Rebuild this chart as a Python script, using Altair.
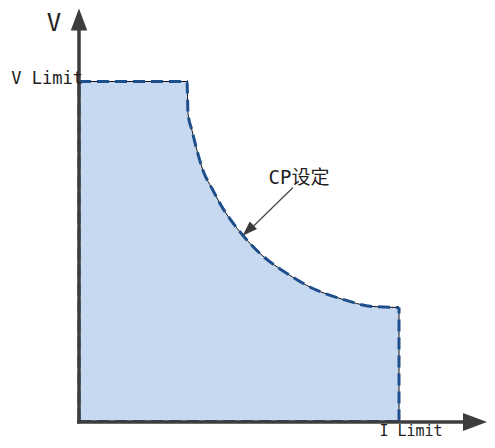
import altair as alt
import pandas as pd

# Constant-power boundary (I, V) (origin at axes crossing)
curve_i = [0, 108, 109, 113, 118, 124, 133, 141, 164, 181, 208, 234, 261, 294, 320]
curve_v = [340, 340, 308, 291, 271, 251, 233, 218, 186, 168, 148, 133, 123, 115, 114]
curve_base = [0] * len(curve_i)

# Remaining straight edges of the region (left, bottom, right)
edge_i = [0, 0, 320]
edge_v = [0, 0, 0]
edge_i2 = [0, 320, 320]
edge_v2 = [340, 0, 114]

# Axis lines
axis_i = [0, -2]
axis_v = [-2, -0.5]
axis_i2 = [0, 385]
axis_v2 = [392, -0.5]

# Annotation arrow for "CP设定"
ann_i = [214]
ann_v = [234]
ann_i2 = [171]
ann_v2 = [192]

labels = ["V", "V Limit", "I Limit", "CP设定"]
label_i = [-25, 4, 332, 220]
label_v = [391, 338, -14, 238]

W = 479
H = 431
XD = [-71, W - 71]
YD = [421.5 - (8 + H), 413.5]
FONT = "DejaVu Sans Mono, Noto Sans CJK SC"

curve = pd.DataFrame({"i": curve_i, "v": curve_v, "v0": curve_base})
edges = pd.DataFrame({"i": edge_i, "v": edge_v, "i2": edge_i2, "v2": edge_v2})
axes = pd.DataFrame({"i": axis_i, "v": axis_v, "i2": axis_i2, "v2": axis_v2})
ann = pd.DataFrame({"i": ann_i, "v": ann_v, "i2": ann_i2, "v2": ann_v2})
lab = pd.DataFrame({"t": labels, "i": label_i, "v": label_v})

def X(f="i"):
    return alt.X(f"{f}:Q", scale=alt.Scale(domain=XD, nice=False, zero=False), axis=None)

def Y(f="v"):
    return alt.Y(f"{f}:Q", scale=alt.Scale(domain=YD, nice=False, zero=False), axis=None)

area = alt.Chart(curve).mark_area(fill="#c6d9f1", fillOpacity=1, interpolate="monotone").encode(
    x=X(), y=Y(), y2="v0:Q")

thin = alt.Chart(curve).mark_line(color="#111111", strokeWidth=1, interpolate="monotone").encode(
    x=X(), y=Y(), order=alt.Order("i:Q"))

dashed = alt.Chart(curve).mark_line(color="#1f4e8c", strokeWidth=3,
                                     strokeDash=[12, 6], interpolate="monotone").encode(
    x=X(), y=Y(), order=alt.Order("i:Q"))

edge_thin = alt.Chart(edges).mark_rule(color="#111111", strokeWidth=1).encode(
    x=X(), y=Y(), x2="i2:Q", y2="v2:Q")
edge_dash = alt.Chart(edges).mark_rule(color="#1f4e8c", strokeWidth=3, strokeDash=[12, 6]).encode(
    x=X(), y=Y(), x2="i2:Q", y2="v2:Q")

axis_lines = alt.Chart(axes).mark_rule(color="#3d3d3d", strokeWidth=3.5).encode(
    x=X(), y=Y(), x2="i2:Q", y2="v2:Q")

head_up = alt.Chart(pd.DataFrame({"i": [0], "v": [402]})).mark_point(
    shape="M0,-1L0.75,1L-0.75,1Z", size=484, filled=True, fill="#3d3d3d",
    stroke=None, opacity=1).encode(x=X(), y=Y())
head_right = alt.Chart(pd.DataFrame({"i": [396], "v": [-0.5]})).mark_point(
    shape="M1,0L-1,-0.75L-1,0.75Z", size=576, filled=True, fill="#3d3d3d",
    stroke=None, opacity=1).encode(x=X(), y=Y())

ann_line = alt.Chart(ann).mark_rule(color="#444444", strokeWidth=1.2).encode(
    x=X(), y=Y(), x2="i2:Q", y2="v2:Q")
ann_head = alt.Chart(pd.DataFrame({"i": [169], "v": [191]})).mark_point(
    shape="M0,-1L0.7,1L-0.7,1Z", size=225, filled=True, fill="#3a3a3a",
    stroke=None, opacity=1, angle=226).encode(x=X(), y=Y())

def txt(row, size, align):
    return alt.Chart(lab.iloc[[row]]).mark_text(
        font=FONT, fontSize=size, align=align, baseline="alphabetic", color="#222222").encode(
        x=X(), y=Y(), text="t:N")

texts = [txt(0, 24, "center"), txt(1, 17, "right"), txt(2, 15, "center"),
         txt(3, 19, "center")]

chart = alt.layer(area, edge_thin, thin, edge_dash, dashed, axis_lines, head_up, head_right,
                  ann_line, ann_head, *texts).properties(
    width=W, height=H, autosize=alt.AutoSizeParams(type="none"), padding=0
).configure_view(stroke=None)

chart.save("out.html", embed_options={"renderer": "svg", "actions": False})
